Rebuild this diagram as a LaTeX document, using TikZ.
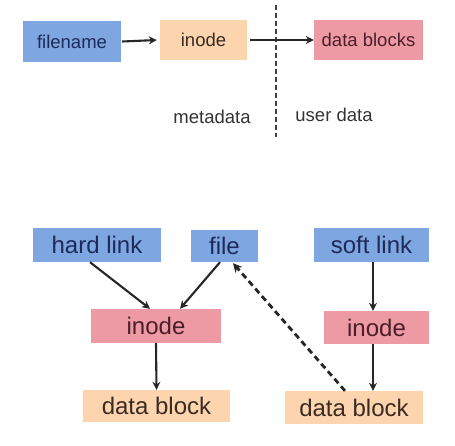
\documentclass[tikz,border=0pt]{standalone}
\usepackage{fontspec}
\setmainfont{Liberation Sans}
\usetikzlibrary{arrows.meta}
\definecolor{bluebox}{HTML}{7EA6E0}
\definecolor{pinkbox}{HTML}{EE9AA5}
\definecolor{peachbox}{HTML}{FCD5AE}
\definecolor{bluetext}{HTML}{1E2A5A}
\definecolor{pinktext}{HTML}{4A1E28}
\definecolor{peachtext}{HTML}{3A2A22}
\begin{document}
\begin{tikzpicture}[x=1pt,y=-1pt,
  box/.style={rectangle,inner sep=0pt,anchor=center},
  bluenode/.style={box,fill=bluebox,text=bluetext},
  pinknode/.style={box,fill=pinkbox,text=pinktext},
  peachnode/.style={box,fill=peachbox,text=peachtext},
  small/.style={font=\fontsize{18.5}{21}\selectfont},
  big/.style={font=\fontsize{24}{28}\selectfont},
  arr/.style={line width=2.1pt,draw=black!85,-{Stealth[length=8pt,width=8pt]}},
  dasharr/.style={line width=2.8pt,draw=black!85,dash pattern=on 6pt off 4pt,-{Stealth[length=9pt,width=9pt]}},
  divider/.style={line width=2pt,draw=black!75,dash pattern=on 5pt off 3pt}
]
\useasboundingbox (0,0) rectangle (455,445);
% top row
\node[bluenode,small,minimum width=98pt,minimum height=41pt] (fn) at (72,41.5) {filename};
\node[peachnode,small,minimum width=87pt,minimum height=40pt] (inT) at (203.5,40) {inode};
\node[pinknode,small,minimum width=109pt,minimum height=40pt] (dbs) at (368.5,40) {data blocks};
\coordinate (divtop) at (276,5);
\coordinate (divbot) at (276,137);
\draw[divider] (divtop) -- (divbot);
\draw[arr] ([xshift=1pt]fn.east) -- ([xshift=-3pt]inT.west);
\draw[arr] ([xshift=3pt]inT.east) -- (dbs.west);
\node[small,text=black!80] (meta) at (212,117) {metadata};
\node[small,text=black!80] (user) at (334,115) {user data};
% bottom
\node[bluenode,big,minimum width=128pt,minimum height=34pt] (hl) at (97,245) {hard link};
\node[bluenode,big,minimum width=67pt,minimum height=32pt] (file) at (224.5,246) {file};
\node[bluenode,big,minimum width=115pt,minimum height=34pt] (sl) at (371.5,245) {soft link};
\node[pinknode,big,minimum width=130pt,minimum height=34pt] (inL) at (156,326) {inode};
\node[pinknode,big,minimum width=105pt,minimum height=33pt] (inR) at (376.5,327.5) {inode};
\node[peachnode,big,minimum width=147pt,minimum height=32pt] (dbL) at (156.5,406) {data block};
\node[peachnode,big,minimum width=138pt,minimum height=33pt] (dbR) at (354,407.5) {data block};
\draw[arr] ([xshift=-7pt]hl.south) -- ([xshift=-6pt]inL.north);
\draw[arr] ([xshift=-4.5pt]file.south) -- ([xshift=24pt]inL.north);
\draw[arr] (inL.south) -- (dbL.north);
\draw[arr] ([xshift=1.5pt]sl.south) -- ([xshift=-3.5pt]inR.north);
\draw[arr] ([xshift=-3.5pt]inR.south) -- ([xshift=19pt]dbR.north);
\draw[dasharr] ([xshift=-9pt]dbR.north) -- ([xshift=8.5pt,yshift=-1pt]file.south);
\end{tikzpicture}
\end{document}
